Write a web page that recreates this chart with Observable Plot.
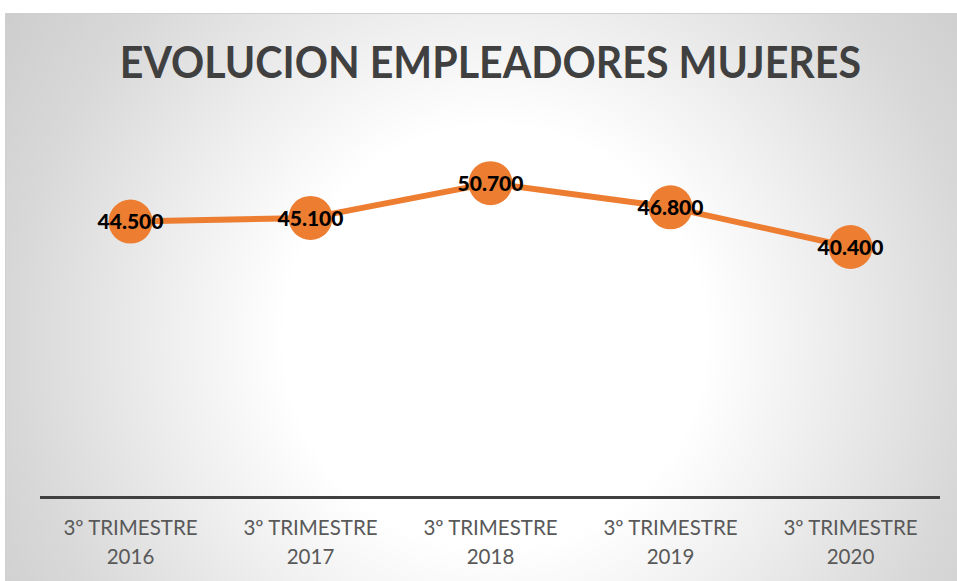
<!DOCTYPE html>
<html>
<head>
<meta charset="utf-8">
<script src="https://cdn.jsdelivr.net/npm/d3@7"></script>
<script src="https://cdn.jsdelivr.net/npm/@observablehq/plot@0.6"></script>
<style>
  html, body { margin: 0; padding: 0; background: #fff; }
  #wrap { position: relative; width: 957px; height: 581px; overflow: hidden; }
  #bg { position: absolute; left: 5px; top: 13px; width: 960px; height: 580px;
        border: 1px solid #d0d0d0; box-sizing: border-box;
        background: radial-gradient(circle at 51% 56%, #ffffff 0px, #ffffff 210px, #eeeeee 330px, #d8d8d8 480px, #c8c8c8 640px); }
  #title { position: absolute; left: 0; width: 980px; top: 35px; text-align: center; }
  #title span { display: inline-block; transform: scaleX(0.935); transform-origin: center;
           font-family: Lato, sans-serif; font-weight: 700; font-size: 44px; color: #404040; }
  #chart { position: absolute; left: 0; top: 0; }
</style>
</head>
<body>
<div id="wrap">
  <div id="bg"></div>
  <div id="title"><span>EVOLUCION EMPLEADORES MUJERES</span></div>
  <div id="chart"></div>
</div>
<script>
const categories = ["3º TRIMESTRE\n2016", "3º TRIMESTRE\n2017", "3º TRIMESTRE\n2018", "3º TRIMESTRE\n2019", "3º TRIMESTRE\n2020"];
const values = [44500, 45100, 50700, 46800, 40400];

const data = categories.map((c, i) => ({cat: c, value: values[i]}));
const es = d3.formatLocale({decimal: ",", thousands: ".", grouping: [3], currency: ["", "€"]});
const fmt = es.format(",");

const plot = Plot.plot({
  width: 957,
  height: 581,
  marginLeft: 40,
  marginRight: 17,
  marginTop: 125,
  marginBottom: 84,
  style: {background: "transparent", fontFamily: "Lato, sans-serif"},
  x: {type: "point", domain: categories, padding: 0.5},
  y: {domain: [0, 60000], axis: null},
  marks: [
    Plot.ruleY([0], {stroke: "#404040", strokeWidth: 3}),
    Plot.axisX({tickSize: 0, fontSize: 20.5, fill: "#595959", lineHeight: 1.45, tickPadding: 16, label: null}),
    Plot.line(data, {x: "cat", y: "value", stroke: "#ED7D31", strokeWidth: 6}),
    Plot.dot(data, {x: "cat", y: "value", r: 22, fill: "#ED7D31", stroke: "none"}),
    Plot.text(data, {x: "cat", y: "value", text: d => fmt(d.value), fontSize: 21, fontWeight: 900, fill: "#000", dy: 1})
  ]
});
document.getElementById("chart").appendChild(plot);
</script>
</body>
</html>
